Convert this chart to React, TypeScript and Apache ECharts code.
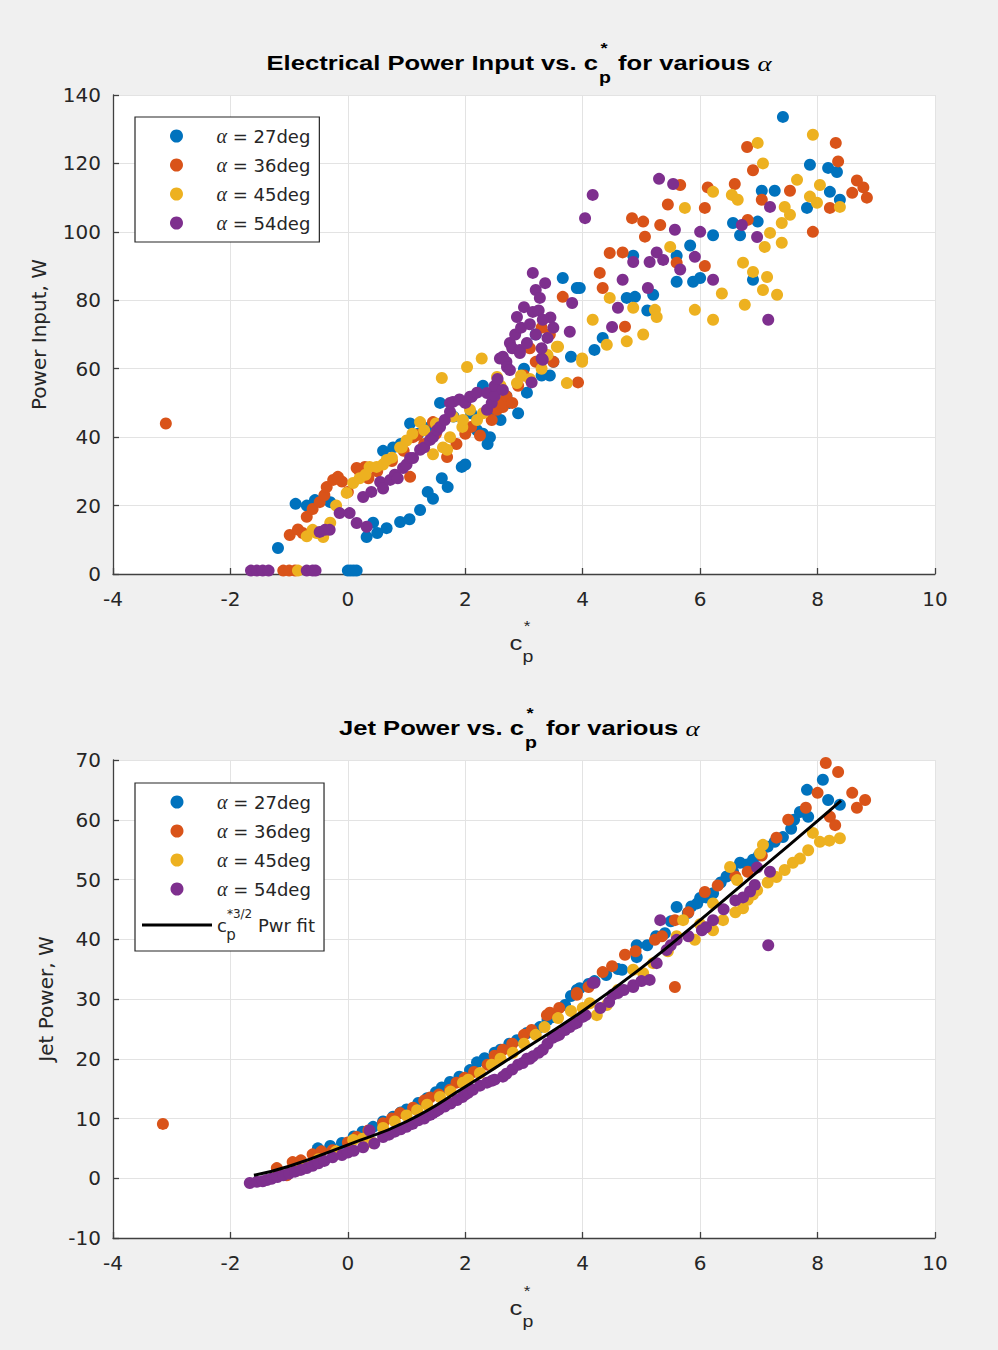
import React, { useEffect, useRef } from 'react';
import * as echarts from 'echarts';

const seriesNames = ['α = 27deg', 'α = 36deg', 'α = 45deg', 'α = 54deg'];
const fitName = 'c*3/2 Pwr fit';
const colors = ['#0072BD', '#D95319', '#EDB120', '#7E2F8E'];

const xMin = -4, xMax = 10, xStep = 2;
const topYMin = 0, topYMax = 140, topYStep = 20;
const botYMin = -10, botYMax = 70, botYStep = 10;

const topBlue = [
  [0.0, 1], [0.05, 1], [0.1, 1], [0.15, 1],
  [-1.19, 7.6], [-0.89, 20.5], [-0.7, 20], [-0.56, 21.6], [-0.4, 22], [-0.3, 21],
  [0.32, 10.8], [0.43, 15], [0.5, 12], [0.66, 13.4], [0.89, 15.2], [1.05, 16], [1.23, 18.7], [1.36, 24], [1.45, 22],
  [1.6, 28], [1.7, 25.4], [1.94, 31.3], [2.0, 32],
  [0.6, 36], [0.77, 37], [0.9, 38], [1.06, 44], [1.2, 41], [1.4, 43], [1.57, 50], [1.8, 46], [2.1, 47], [2.2, 42],
  [2.38, 38], [2.3, 55], [2.42, 40], [2.3, 41], [2.5, 47], [2.6, 45], [2.75, 50],
  [2.7, 52], [2.9, 47], [3.0, 60], [3.05, 53], [3.2, 70], [3.3, 58], [3.5, 62],
  [3.44, 58], [3.66, 86.5], [3.8, 63.5], [3.9, 83.6], [3.95, 83.6], [4.2, 65.5], [4.34, 69], [4.75, 80.7], [4.89, 81],
  [5.1, 77], [5.2, 81.6], [4.86, 93], [5.6, 93], [5.83, 96], [5.6, 85.4], [5.88, 85.4], [6.0, 86.5], [6.22, 99],
  [6.56, 102.6], [6.68, 99], [6.9, 86], [6.98, 103], [7.05, 112], [7.27, 112], [7.41, 133.6], [7.82, 107],
  [7.87, 119.6], [8.18, 118.7], [8.21, 111.7], [8.33, 117.5], [8.38, 109.4]
];
const topOrange = [
  [-3.1, 44], [-1.1, 1], [-1.0, 1], [-0.9, 1],
  [-0.99, 11.4], [-0.85, 13], [-0.77, 12], [-0.7, 16.7], [-0.6, 19], [-0.48, 21], [-0.4, 23], [-0.36, 25.4],
  [-0.25, 27.5], [-0.17, 28.4], [-0.1, 27], [0.0, 24], [0.15, 31], [0.29, 31.3], [0.2, 30], [0.35, 28], [0.5, 30],
  [0.75, 33], [0.95, 36], [1.06, 28.4], [1.11, 40], [1.18, 40.6], [1.3, 38], [1.45, 44.4], [1.5, 41], [1.69, 34.2],
  [1.85, 38], [2.0, 41], [2.1, 43], [2.25, 40.5], [2.45, 45],
  [2.54, 48], [2.64, 48.8], [2.62, 50], [2.7, 52], [2.8, 50], [2.9, 55], [3.0, 58], [3.1, 66], [3.2, 62], [3.3, 72],
  [3.44, 70], [3.5, 62], [3.66, 81], [3.92, 56],
  [4.29, 88], [4.34, 83.6], [4.46, 93.8], [4.68, 94], [4.72, 72.3], [4.84, 104], [5.03, 103], [5.06, 98.6],
  [5.32, 102], [5.45, 108], [5.6, 91], [5.66, 113.7], [6.08, 107], [6.08, 90], [6.13, 113], [6.59, 114],
  [6.8, 124.8], [6.81, 103.5], [6.9, 118], [7.05, 109.4], [7.53, 112], [7.92, 100], [8.21, 107], [8.31, 126],
  [8.35, 120.6], [8.59, 111.4], [8.67, 115], [8.78, 113], [8.84, 110]
];
const topYellow = [
  [-0.85, 1],
  [-0.7, 11], [-0.6, 12.9], [-0.53, 12], [-0.42, 10.8], [-0.3, 15], [-0.2, 20], [-0.02, 23.7], [0.09, 26.6],
  [0.2, 28], [0.3, 29], [0.37, 31.3], [0.49, 31.3], [0.6, 32], [0.66, 33.3], [0.75, 34],
  [0.89, 37], [0.92, 37], [1.0, 39], [1.1, 41], [1.23, 44.4], [1.3, 42], [1.45, 35], [1.5, 44], [1.6, 57.3],
  [1.62, 37], [1.69, 36.3], [1.74, 40], [1.79, 46], [1.95, 43],
  [1.96, 45], [2.03, 60.5], [2.08, 48], [2.2, 45], [2.28, 63], [2.3, 47], [2.45, 53], [2.54, 57.6], [2.6, 55],
  [2.88, 55.8], [2.95, 58], [3.1, 57], [3.3, 60], [3.4, 64], [3.56, 66.4],
  [3.58, 66.4], [3.73, 55.8], [3.99, 63], [3.99, 62], [4.17, 74.3], [4.41, 67], [4.46, 80.7], [4.75, 68],
  [4.86, 77.8], [5.03, 70], [5.23, 77.2], [5.26, 75.1], [5.49, 95.6], [5.74, 107], [5.91, 77.2], [6.22, 111.7],
  [6.22, 74.3], [6.37, 82], [6.54, 110.8], [6.64, 109.4], [6.73, 91], [6.76, 78.7], [6.9, 88.3], [6.98, 126],
  [7.07, 120], [7.07, 83], [7.1, 95.6], [7.14, 86.8], [7.19, 99.7], [7.31, 81.6], [7.39, 96.8], [7.39, 102.6],
  [7.44, 107.3], [7.53, 105], [7.65, 115.2], [7.87, 110.3], [7.92, 128.4], [7.99, 108.5], [8.04, 113.7], [8.38, 107.3]
];
const topPurple = [
  [-1.65, 1], [-1.55, 1], [-1.45, 1], [-1.35, 1], [-0.7, 1], [-0.6, 1], [-0.55, 1],
  [-0.48, 12.3], [-0.39, 12.9], [-0.31, 12.9], [-0.14, 17.8], [0.03, 17.8], [0.15, 14.9], [0.32, 13.8], [0.26, 22.5],
  [0.4, 24], [0.55, 26.9], [0.6, 25], [0.72, 27.5], [0.8, 29], [0.85, 28], [0.94, 31], [1.0, 32], [1.06, 33.9],
  [1.11, 33.9], [1.23, 36.3], [1.3, 37], [1.4, 39.2], [1.45, 40], [1.52, 42],
  [1.57, 43], [1.65, 45], [1.74, 47.4], [1.74, 50], [1.79, 50.3], [1.9, 51], [2.0, 50], [2.08, 51.8], [2.11, 51.8],
  [2.2, 53], [2.37, 52.9], [2.37, 48], [2.45, 50], [2.5, 52], [2.5, 55], [2.55, 57],
  [2.59, 63], [2.64, 53.8], [2.64, 63.5], [2.7, 62], [2.71, 60.5], [2.76, 59.6], [2.76, 67.5], [2.8, 66],
  [2.85, 70], [2.88, 75.1], [2.93, 65.5], [2.95, 72], [3.0, 78],
  [2.93, 64.6], [3.05, 67.5], [3.1, 73], [3.13, 56], [3.15, 88], [3.15, 76.6], [3.2, 70], [3.2, 83], [3.25, 77],
  [3.27, 80.7], [3.3, 63], [3.3, 66], [3.32, 62.6], [3.4, 69], [3.45, 75], [3.5, 72],
  [3.32, 74.3], [3.36, 85], [3.78, 70.8], [3.82, 79.2],
  [4.04, 104], [4.17, 110.8], [4.5, 72.2], [4.6, 77.8], [4.68, 86], [4.86, 91.2], [5.11, 83.6], [5.14, 91.2],
  [5.26, 94], [5.3, 115.5], [5.37, 91.8], [5.54, 114], [5.57, 100.6], [5.66, 89], [5.91, 92.7], [6.0, 100],
  [6.22, 86], [6.71, 102], [6.97, 98.5], [7.16, 74.3], [7.19, 107.3]
];

const botBlue = [
  [-0.51, 5], [-0.3, 5.4], [-0.1, 5.9], [0.1, 7], [0.25, 7.8], [0.43, 8.6], [0.6, 9.5], [0.77, 10.3], [0.9, 11],
  [1.0, 11.5], [1.2, 12.6], [1.35, 13.4], [1.5, 14.4], [1.6, 15.2], [1.74, 16.1], [1.9, 17],
  [2.08, 18.1], [2.2, 19.4], [2.33, 20.1], [2.5, 21], [2.6, 21.5], [2.75, 22.5], [2.88, 23.1], [3.05, 24.3],
  [3.27, 25.3], [3.4, 26.5], [3.5, 27], [3.7, 29], [3.8, 30.5],
  [3.95, 31.8], [3.9, 31.5], [4.1, 32.5], [4.2, 33], [4.4, 34], [4.6, 35], [4.67, 34.9], [4.92, 37], [4.92, 39],
  [5.1, 39], [5.25, 40.5], [5.4, 41], [5.5, 43], [5.6, 45.4], [5.79, 44.4], [5.85, 45.5],
  [5.95, 46], [6.0, 46.9], [6.1, 47], [6.22, 47.7], [6.35, 49.5], [6.45, 50.5], [6.56, 51.3], [6.68, 52.8],
  [6.8, 52.5], [6.9, 53.3], [7.0, 54], [7.15, 55.5], [7.27, 56.3], [7.41, 57.1], [7.55, 58.5], [7.6, 60],
  [7.7, 61.3], [7.82, 65], [7.84, 60.5], [8.09, 66.7], [8.18, 63.3], [8.38, 62.5]
];
const botOrange = [
  [-3.15, 9.1], [-1.21, 1.7], [-1.04, 0.5], [-0.94, 2.7], [-0.8, 3], [-0.6, 4], [-0.45, 4.5], [-0.26, 4.7],
  [0.0, 6], [0.15, 6.9], [0.35, 8], [0.6, 9.2], [0.75, 10],
  [0.89, 10.9], [1.11, 11.8], [1.3, 13], [1.4, 13.5], [1.55, 14], [1.74, 14.8], [1.85, 16], [1.99, 16.8],
  [2.15, 17.8], [2.38, 19], [2.5, 20.5], [2.64, 21.5], [2.8, 22.5], [3.0, 24], [3.13, 24.8],
  [3.39, 27.3], [3.44, 27.7], [3.6, 28.5], [3.9, 30.7], [3.9, 31], [4.1, 32], [4.34, 34.5], [4.5, 35.5],
  [4.72, 37.4], [4.9, 38], [5.23, 39.9], [5.35, 40.5], [5.57, 43.2], [5.8, 44.5],
  [5.57, 32], [6.08, 47.9], [6.3, 49], [6.6, 50.5], [6.81, 51.3], [7.05, 54], [7.3, 57], [7.5, 60], [7.8, 62],
  [8.0, 64.5], [8.14, 69.5], [8.21, 60.5], [8.3, 59.1],
  [8.35, 68], [8.59, 64.5], [8.67, 62], [8.81, 63.3]
];
const botYellow = [
  [-0.87, 1.3], [-0.7, 2.2], [-0.5, 3.2], [-0.2, 4.5], [0.09, 6.4], [0.25, 6.6], [0.43, 5.9], [0.6, 8.4],
  [0.8, 9.5], [1.0, 10.5], [1.18, 11.4], [1.35, 12.3], [1.57, 13.6], [1.75, 14.5], [1.96, 16], [2.05, 16.5],
  [2.25, 17.6], [2.45, 19], [2.6, 20], [2.81, 21], [3.0, 22.5], [3.2, 24], [3.35, 25.3], [3.58, 26.8], [3.8, 28],
  [4.0, 28.5], [4.12, 29.3], [4.24, 27.3], [4.41, 29], [4.6, 31.5], [4.86, 34.9],
  [5.03, 34.3], [5.2, 36], [5.45, 38], [5.6, 40.5], [5.71, 43.2], [5.91, 39.9], [6.0, 42.5], [6.22, 41.5],
  [6.22, 46], [6.39, 43.2], [6.6, 44.5], [6.51, 52.1], [6.63, 49.9],
  [6.73, 45.2], [6.81, 46.6], [6.9, 47.5], [6.97, 48.2], [7.02, 54.4], [7.07, 55.8], [7.15, 49.5], [7.3, 50.4],
  [7.44, 51.6], [7.58, 52.8], [7.7, 53.5],
  [7.84, 54.9], [7.92, 57.8], [8.04, 56.3], [8.2, 56.5], [8.38, 56.9]
];
const botPurple = [
  [-1.67, -0.8], [-1.55, -0.6], [-1.45, -0.5], [-1.38, -0.3], [-1.3, -0.1], [-1.2, 0.2], [-1.1, 0.5],
  [-1.0, 0.8], [-0.9, 1.1], [-0.8, 1.4], [-0.7, 1.7], [-0.6, 2.1], [-0.5, 2.5], [-0.4, 2.9], [-0.26, 3.5],
  [-0.1, 3.9], [0.0, 4.3], [0.1, 4.6], [0.26, 5.2], [0.37, 8], [0.45, 5.8], [0.6, 6.9], [0.7, 7.3], [0.8, 7.8],
  [0.9, 8.2], [1.0, 8.6], [1.1, 9.1], [1.2, 9.7], [1.3, 10], [1.4, 10.6], [1.45, 10.9], [1.5, 11.2],
  [1.55, 11.5], [1.65, 12], [1.75, 12.5], [1.86, 13.1], [1.95, 13.6], [2.0, 14], [2.05, 14.3], [2.13, 14.8],
  [2.25, 15.5], [2.37, 16], [2.45, 16.3],
  [2.5, 16.5], [2.64, 17], [2.7, 17.5], [2.8, 18.2], [2.9, 19], [2.98, 19.3], [3.05, 20], [3.1, 20],
  [3.15, 20.4], [3.25, 21], [3.32, 21.5],
  [3.4, 22.5], [3.49, 23.5], [3.55, 23.8], [3.6, 24], [3.7, 24.8], [3.78, 25.3], [3.85, 25.8], [3.9, 26],
  [4.0, 27], [4.05, 27.3], [4.17, 32.7], [4.2, 32.7], [4.3, 28.5], [4.45, 29.5],
  [4.51, 30.7], [4.6, 31], [4.7, 31.5], [4.86, 32], [4.86, 32.3], [5.0, 33], [5.14, 33.2], [5.26, 36],
  [5.32, 43.2], [5.43, 38.2], [5.5, 39], [5.6, 39.9], [5.8, 40.5],
  [6.03, 41.5], [6.1, 42], [6.22, 43.2], [6.4, 45], [6.6, 46.5], [6.73, 47], [6.85, 48], [6.93, 49.1],
  [6.97, 52], [7.16, 39], [7.19, 51.3]
];

const fitX = [-1.6, -1, 0, 1, 2, 3, 4, 5, 6, 7, 8, 8.4];
const fitY = [0.5, 2.0, 5.6, 9.5, 15.3, 21.6, 28, 35.2, 43.2, 51.5, 59.8, 63.2];

const topData = [topBlue, topOrange, topYellow, topPurple];
const botData = [botBlue, botOrange, botYellow, botPurple];

const FONT = '"DejaVu Sans", sans-serif';
const TFONT = '"Liberation Sans", Arial, sans-serif';
const AXC = '#262626';

function xAxisCfg(gridIndex: number) {
  return {
    type: 'value', gridIndex, min: xMin, max: xMax, interval: xStep,
    axisLine: { show: true, onZero: false, lineStyle: { color: '#404040', width: 1.3 } },
    axisTick: { show: true, inside: true, length: 6, lineStyle: { color: '#404040', width: 1.3 } },
    axisLabel: { color: AXC, fontSize: 20, fontFamily: FONT, margin: 15 },
    splitLine: { show: true, lineStyle: { color: '#e3e3e3', width: 1 } },
  };
}
function yAxisCfg(gridIndex: number, min: number, max: number, step: number, name: string, gap: number) {
  return {
    type: 'value', gridIndex, min, max, interval: step,
    name, nameLocation: 'middle', nameGap: gap, nameRotate: 90,
    nameTextStyle: { color: AXC, fontSize: 20, fontFamily: FONT },
    axisLine: { show: true, onZero: false, lineStyle: { color: '#404040', width: 1.3 } },
    axisTick: { show: true, inside: true, length: 6, lineStyle: { color: '#404040', width: 1.3 } },
    axisLabel: { color: AXC, fontSize: 20, fontFamily: FONT, margin: 12 },
    splitLine: { show: true, lineStyle: { color: '#e3e3e3', width: 1 } },
  };
}

function legendCfg(top: number, names: string[], padLeft: number) {
  const data = names.map((n) =>
    n === fitName ? { name: n, icon: 'path://M0,0L70,0L70,3L0,3Z' } : { name: n, icon: 'circle' }
  );
  return {
    orient: 'vertical', left: 135, top, data, align: 'left',
    itemWidth: 70, itemHeight: 13, itemGap: 9,
    padding: [9, 9, 9, padLeft],
    backgroundColor: '#ffffff', borderColor: '#262626', borderWidth: 1.2, borderRadius: 0,
    selectedMode: false,
    textStyle: {
      color: AXC, fontSize: 18, fontFamily: FONT, lineHeight: 20,
      rich: {
        a: { fontFamily: '"Liberation Serif", serif', fontStyle: 'italic', fontSize: 20, color: AXC },
        c: { fontFamily: FONT, fontSize: 18, color: AXC, lineHeight: 34 },
        s: { fontFamily: FONT, fontSize: 12, color: AXC, verticalAlign: 'top', lineHeight: 14 },
        t: { fontFamily: FONT, fontSize: 18, color: AXC },
      },
    },
    formatter: (name: string) => (name === fitName ? '{c|c}{s|*3/2}{t| Pwr fit}' : name.replace('α', '{a|α}')),
  };
}

function txt(text: string, x: number, y: number, size: number, weight: string, align: string, extra: any = {}) {
  return {
    type: 'text', x, y, scaleX: extra.scaleX ?? 1.22, z: 100,
    style: {
      text, fontSize: size, fontWeight: weight, fontFamily: extra.family ?? TFONT, fontStyle: extra.italic ? 'italic' : 'normal',
      fill: extra.fill ?? '#000', align, verticalAlign: 'middle', textAlign: align, textVerticalAlign: 'middle',
      rich: extra.rich,
    },
  };
}

function titleParts(leftText: string, leftEnd: number, starX: number, rightStart: number, y: number) {
  return [
    txt(leftText, leftEnd, y, 21, 'bold', 'right'),
    txt('*', starX, y - 15, 15, 'bold', 'center'),
    txt('p', starX + 1, y + 15, 16, 'bold', 'center'),
    txt('{b|for various }{a|α}', rightStart, y, 21, 'bold', 'left', {
      rich: {
        b: { fontSize: 21, fontWeight: 'bold', fontFamily: TFONT, fill: '#000', color: '#000' },
        a: { fontSize: 22, fontWeight: 'normal', fontStyle: 'italic', fontFamily: '"Liberation Serif", serif', fill: '#000', color: '#000' },
      },
    }),
  ];
}

function axisNameParts(y: number) {
  return [
    txt('c', 516, y, 21, 'normal', 'center', { fill: AXC }),
    txt('*', 527, y - 17, 14, 'normal', 'center', { fill: AXC }),
    txt('p', 528, y + 14, 16, 'normal', 'center', { fill: AXC }),
  ];
}

export default function App() {
  const ref = useRef<HTMLDivElement>(null);
  useEffect(() => {
    if (!ref.current) return;
    const chart = echarts.init(ref.current, null, { renderer: 'svg' });
    const series: any[] = [];
    topData.forEach((d, i) => {
      series.push({
        type: 'scatter', name: seriesNames[i], xAxisIndex: 0, yAxisIndex: 0, data: d,
        symbol: 'circle', symbolSize: 12, itemStyle: { color: colors[i], opacity: 1 }, z: 2 + i,
      });
    });
    botData.forEach((d, i) => {
      series.push({
        type: 'scatter', name: seriesNames[i], xAxisIndex: 1, yAxisIndex: 1, data: d,
        symbol: 'circle', symbolSize: 12, itemStyle: { color: colors[i], opacity: 1 }, z: 2 + i,
      });
    });
    series.push({
      type: 'line', name: fitName, xAxisIndex: 1, yAxisIndex: 1,
      data: fitX.map((x, i) => [x, fitY[i]]), smooth: true, symbol: 'none', showSymbol: false,
      lineStyle: { color: '#000', width: 3 }, itemStyle: { color: '#000' }, z: 10,
    });
    chart.setOption({
      animation: false,
      backgroundColor: '#f0f0f0',
      grid: [
        { left: 113, top: 95, width: 822, height: 479, show: true, backgroundColor: '#ffffff', borderWidth: 0, containLabel: false, outerBoundsMode: 'none' },
        { left: 113, top: 760, width: 822, height: 478, show: true, backgroundColor: '#ffffff', borderWidth: 0, containLabel: false, outerBoundsMode: 'none' },
      ],
      xAxis: [xAxisCfg(0), xAxisCfg(1)],
      yAxis: [
        yAxisCfg(0, topYMin, topYMax, topYStep, 'Power Input, W', 64),
        yAxisCfg(1, botYMin, botYMax, botYStep, 'Jet Power, W', 57),
      ],
      legend: [legendCfg(117, seriesNames, 35), legendCfg(783, [...seriesNames, fitName], 7)],
      tooltip: { show: false },
      series,
      graphic: [
        ...titleParts('Electrical Power Input vs. c', 598, 604, 618, 63),
        ...titleParts('Jet Power vs. c', 524, 530, 546, 728),
        ...axisNameParts(643),
        ...axisNameParts(1308),
        txt('p', 231, 935, 15, 'normal', 'center', { family: FONT, scaleX: 1, fill: AXC }),
      ],
    });
    return () => chart.dispose();
  }, []);
  return <div ref={ref} style={{ position: 'absolute', left: 0, top: 0, width: 998, height: 1350, background: '#f0f0f0' }} />;
}
